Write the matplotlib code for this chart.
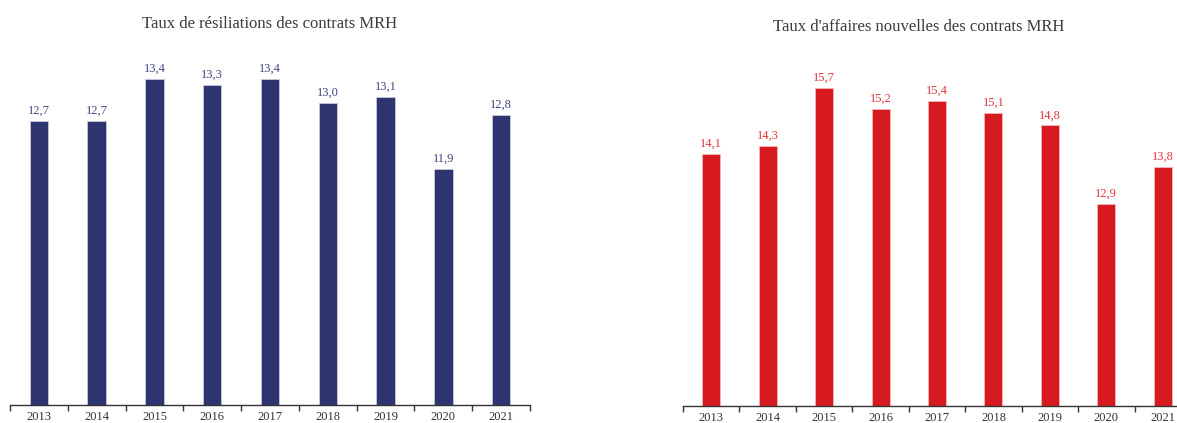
import matplotlib
matplotlib.use("Agg")
import matplotlib.pyplot as plt
import numpy as np

years = ["2013", "2014", "2015", "2016", "2017", "2018", "2019", "2020", "2021"]
resiliations = [12.7, 12.7, 13.4, 13.3, 13.4, 13.0, 13.1, 11.9, 12.8]
affaires_nouvelles = [14.1, 14.3, 15.7, 15.2, 15.4, 15.1, 14.8, 12.9, 13.8]

title_left = "Taux de résiliations des contrats MRH"
title_right = "Taux d'affaires nouvelles des contrats MRH"

plt.rcParams['font.family'] = ['Liberation Serif', 'DejaVu Serif']

W, H = 1177, 423
fig = plt.figure(figsize=(W / 100, H / 100), dpi=100)

def px_axes(x0, x1, ytop, ybot):
    return fig.add_axes([x0 / W, (H - ybot) / H, (x1 - x0) / W, (ybot - ytop) / H])

ax1 = px_axes(10, 530, 13, 405)
ax2 = px_axes(683, 1191, 14, 406)

def draw(ax, vals, color, edge, lab_color, ylim):
    x = np.arange(len(years))
    ax.bar(x, vals, width=0.32, color=color, edgecolor=edge, linewidth=0.6)
    ax.set_ylim(*ylim)
    ax.set_xlim(-0.5, len(years) - 0.5)
    for xi, v in zip(x, vals):
        ax.annotate(f"{v:.1f}".replace(".", ","), (xi, v), xytext=(0, 3), textcoords="offset points",
                    ha="center", va="bottom", fontsize=9, color=lab_color)
    for s in ["top", "right", "left"]:
        ax.spines[s].set_visible(False)
    ax.spines["bottom"].set_color("#333333")
    ax.spines["bottom"].set_linewidth(1.0)
    ax.set_yticks([])
    ax.set_xticks(x)
    ax.set_xticklabels(years, fontsize=9, color="#333333")
    ax.tick_params(axis="x", which="major", length=0, pad=4)
    ax.set_xticks(np.arange(len(years) + 1) - 0.5, minor=True)
    ax.tick_params(axis="x", which="minor", length=4, width=1.0, color="#333333", direction="out")
    ax.patch.set_alpha(0)

draw(ax1, resiliations, "#2e3470", "#c9c9e0", "#3f4585", (7.97, 14.5))
draw(ax2, affaires_nouvelles, "#d71920", "#f2b8bb", "#e0343c", (8, 17.5))

fig.text(270 / W, 1 - 24 / H, title_left, ha="center", va="center", fontsize=12, color="#3c3c3c")
fig.text(919 / W, 1 - 27 / H, title_right, ha="center", va="center", fontsize=12, color="#3c3c3c")

fig.savefig("out.png", dpi=100)
